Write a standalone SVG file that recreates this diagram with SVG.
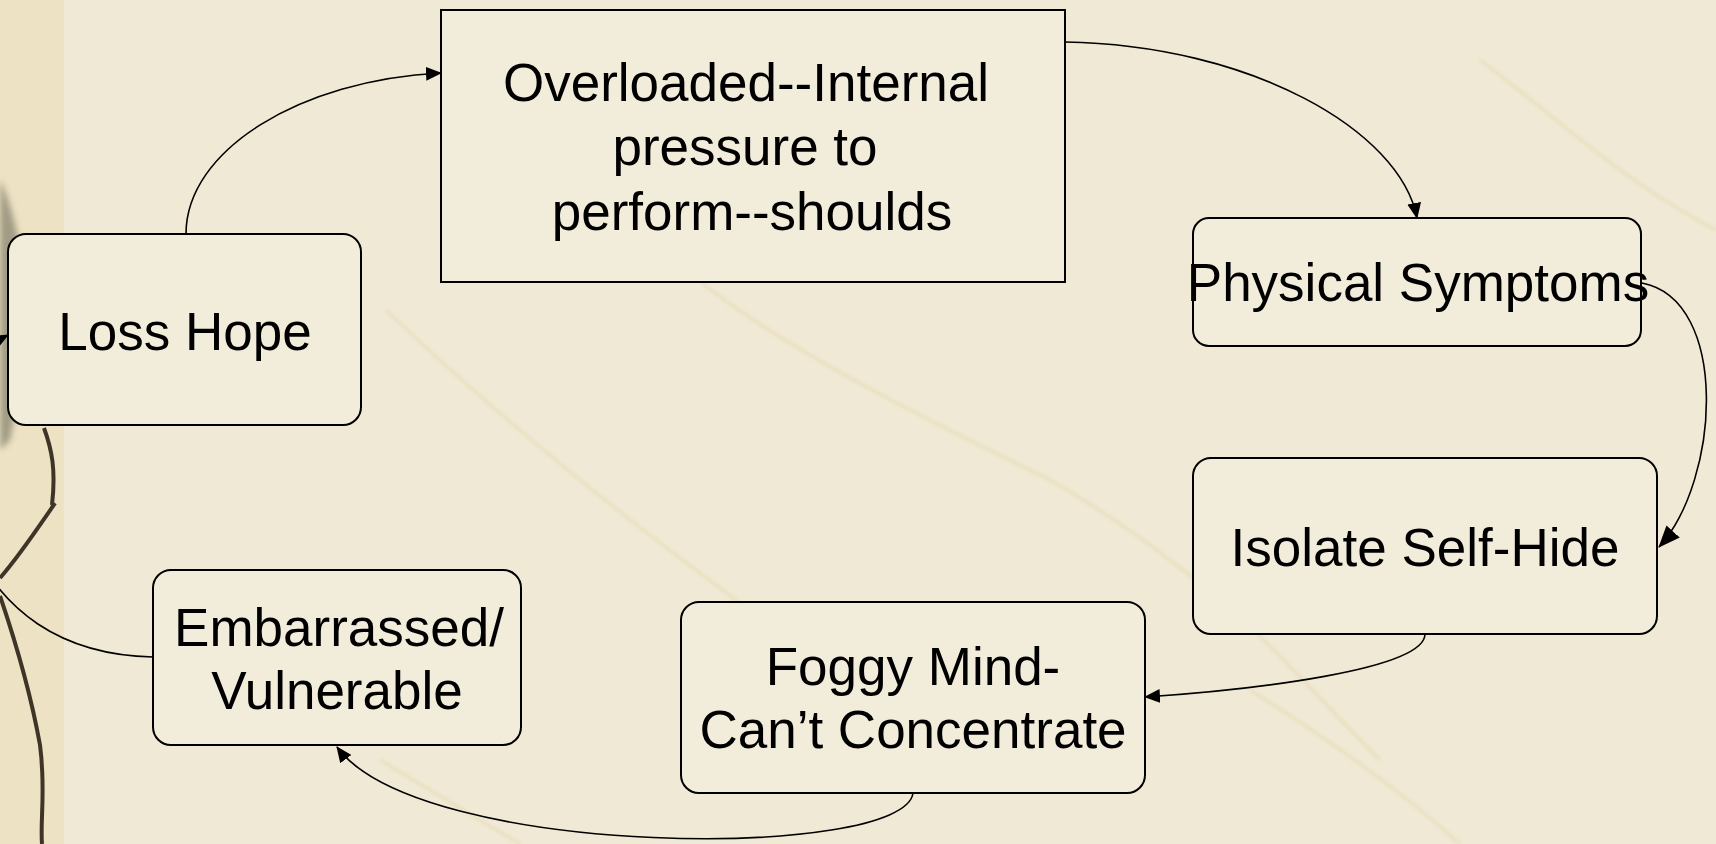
<svg xmlns="http://www.w3.org/2000/svg" width="1716" height="844" viewBox="0 0 1716 844">
<defs>
<style>
.box{fill:#f2ecdb;stroke:#000;stroke-width:2}
.lbl{font-family:"Liberation Sans",Arial,sans-serif;font-size:53px;fill:#000;text-anchor:middle}
.edge{fill:none;stroke:#000;stroke-width:1.6}
.vein{fill:none;stroke:#e6d8b0;stroke-width:3;opacity:0.6}
</style>
<marker id="arr" markerUnits="userSpaceOnUse" markerWidth="16" markerHeight="14" refX="15" refY="7" orient="auto">
<path d="M0,0 L16,7 L0,14 Z" fill="#000"/>
</marker>
<marker id="arrBig" markerUnits="userSpaceOnUse" markerWidth="22" markerHeight="18" refX="21" refY="9" orient="auto">
<path d="M0,0 L22,9 L0,18 Z" fill="#000"/>
</marker>
<filter id="blur" x="-10%" y="-10%" width="120%" height="120%"><feGaussianBlur stdDeviation="1.5"/></filter>
<filter id="blur2" x="-20%" y="-20%" width="140%" height="140%"><feGaussianBlur stdDeviation="3"/></filter>
</defs>
<rect x="0" y="0" width="1716" height="844" fill="#f0e9d5"/>
<g id="background" filter="url(#blur)">
<path class="vein" d="M386,310 C480,400 600,500 736,600 C780,640 820,700 860,760"/>
<path class="vein" d="M702,283 C800,360 950,430 1050,480 C1120,520 1170,560 1200,583 C1260,630 1320,700 1380,760"/>
<path class="vein" d="M380,760 C430,790 480,820 520,844"/>
<path class="vein" d="M1250,690 C1330,740 1400,790 1460,844"/>
<path class="vein" d="M1480,60 C1560,120 1620,180 1716,230"/>
</g>
<g id="left-strip">
<rect x="0" y="0" width="64" height="844" fill="#ede2c3"/>
<path d="M0,180 C8,195 18,230 24,270 C28,320 22,380 10,440 L0,450 Z" fill="#8e8a74" opacity="0.8" filter="url(#blur2)"/>
<path d="M44,428 C52,450 56,470 52,505 M55,503 C40,525 20,555 0,578 M0,596 C15,640 30,690 40,745 C46,790 40,820 42,844" fill="none" stroke="#3e3528" stroke-width="4"/>
</g>
<g id="connectors">
<path class="edge" d="M186,234 C186,150 300,80 441,73" marker-end="url(#arr)"/>
<path class="edge" d="M1065,42 C1250,45 1400,130 1417,218" marker-end="url(#arr)"/>
<path class="edge" d="M1642,283 C1730,300 1720,480 1659,547" marker-end="url(#arrBig)"/>
<path class="edge" d="M1425,634 C1425,670 1250,690 1145,697" marker-end="url(#arr)"/>
<path class="edge" d="M913,793 C905,860 420,860 337,747" marker-end="url(#arr)"/>
<path class="edge" d="M153,657 C60,655 0,610 -30,540 C-50,480 -40,360 8,335" marker-end="url(#arr)"/>
</g>
<g id="node-overloaded">
<rect class="box" x="441" y="10" width="624" height="272"/>
<text class="lbl"><tspan x="746" y="101">Overloaded--Internal</tspan><tspan x="745" y="165">pressure to</tspan><tspan x="752" y="230">perform--shoulds</tspan></text>
</g>
<g id="node-physical">
<rect class="box" x="1193" y="218" width="448" height="128" rx="16"/>
<text class="lbl" x="1418" y="301">Physical Symptoms</text>
</g>
<g id="node-isolate">
<rect class="box" x="1193" y="458" width="464" height="176" rx="18"/>
<text class="lbl" x="1425" y="566">Isolate Self-Hide</text>
</g>
<g id="node-foggy">
<rect class="box" x="681" y="602" width="464" height="191" rx="18"/>
<text class="lbl"><tspan x="913" y="685">Foggy Mind-</tspan><tspan x="913" y="748">Can’t Concentrate</tspan></text>
</g>
<g id="node-embarrassed">
<rect class="box" x="153" y="570" width="368" height="175" rx="18"/>
<text class="lbl"><tspan x="339" y="646">Embarrassed/</tspan><tspan x="337" y="709">Vulnerable</tspan></text>
</g>
<g id="node-losshope">
<rect class="box" x="8" y="234" width="353" height="191" rx="18"/>
<text class="lbl" x="185" y="350">Loss Hope</text>
</g>
</svg>
